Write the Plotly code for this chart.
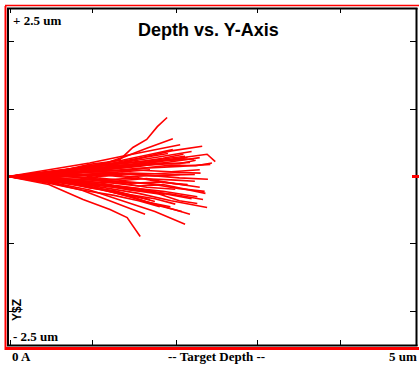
import plotly.graph_objects as go

# Ion trajectories: depth (um) and lateral Y position (um)
ion_depth = [
    [0, 0.5, 0.9, 1.2, 1.37, 1.53, 1.70, 1.83, 1.95],
    [0, 0.5, 1.0, 1.4, 1.7, 2.02],
    [0, 0.6, 1.1, 1.6, 2.0, 2.38],
    [0, 0.5, 1.0, 1.5, 1.9, 2.25, 2.44, 2.54],
    [0, 0.6, 1.2, 1.7, 2.1, 2.45],
    [0, 0.5, 1.0, 1.5, 1.9, 2.35],
    [0, 0.6, 1.1, 1.6, 2.0, 2.44],
    [0, 0.5, 1.0, 1.4, 1.8, 2.17],
    [0, 0.6, 1.1, 1.5, 1.8, 2.13],
    [0, 0.5, 0.9, 1.2, 1.45, 1.68],
    [0, 0.5, 0.92, 1.25, 1.46, 1.53, 1.62],
    [0, 0.6, 1.0, 1.4, 1.75, 2.02],
    [0, 0.5, 1.0, 1.5, 1.9, 2.25],
    [0, 0.6, 1.1, 1.6, 2.0, 2.35],
    [0, 0.5, 1.0, 1.5, 2.0, 2.35],
    [0, 0.5, 1.0, 1.5, 1.9, 2.32],
    [0, 0.6, 1.1, 1.5, 2.0, 2.39],
    [0, 0.5, 1.0, 1.4, 1.7, 1.99],
    [0, 0.5, 0.9, 1.3, 1.6, 1.86],
    [0, 0.6, 1.2, 1.6, 1.9, 2.23],
    [0, 0.5, 1.0, 1.4, 1.8, 2.11],
    [0, 0.6, 1.1, 1.6, 2.0, 2.29],
    [0, 0.5, 1.0, 1.4, 1.7, 2.05],
    [0, 0.6, 1.0, 1.4, 1.86],
    [0, 0.5, 0.9, 1.3, 1.74],
    [0, 0.5, 1.0, 1.5, 1.9, 2.17],
    [0, 0.6, 1.1, 1.6, 2.1, 2.48],
    [0, 0.5, 1.0, 1.4, 1.7, 1.92],
    [0, 0.6, 1.1, 1.5, 1.9, 2.23],
    [0, 0.5, 0.9, 1.3, 1.74],
    [0, 0.5, 1.0, 1.4, 1.8, 2.11],
    [0, 0.6, 1.2, 1.7, 2.1, 2.41],
    [0, 0.5, 1.0, 1.4, 1.8],
    [0, 0.5, 0.9, 1.3, 1.62],
    [0, 0.6, 1.1, 1.5, 1.9, 2.29],
    [0, 0.5, 1.0, 1.6, 2.0, 2.2],
    [0, 0.3, 0.6, 0.9, 1.2, 1.5, 1.8, 2.1, 2.3],
    [0, 0.3, 0.7, 1.0, 1.3, 1.6, 1.9, 2.2, 2.42],
    [0, 0.4, 0.8, 1.1, 1.4, 1.7, 2.0, 2.3, 2.5],
    [0, 0.4, 0.8, 1.2, 1.5, 1.8, 2.05],
    [0, 0.3, 0.7, 1.1, 1.4, 1.7, 1.96],
    [0, 0.4, 0.8, 1.2, 1.6, 1.9, 2.2],
    [0, 0.3, 0.6, 1.0, 1.3, 1.6, 1.9, 2.25],
    [0, 0.4, 0.7, 1.0, 1.3, 1.6, 1.9, 2.15],
    [0, 0.4, 0.8, 1.2, 1.5, 1.8, 2.1, 2.36],
    [0, 0.3, 0.7, 1.0, 1.3, 1.55, 1.8],
    [0, 0.4, 0.8, 1.2, 1.5, 1.85, 2.1, 2.32],
    [0, 0.35, 0.75, 1.1, 1.45, 1.8, 2.1],
    [0, 0.4, 0.8, 1.1, 1.4, 1.7, 2.0, 2.2],
    [0, 0.3, 0.6, 0.95, 1.3, 1.6, 1.9, 2.28],
]
ion_lateral = [
    [0, 0.06, 0.14, 0.20, 0.25, 0.43, 0.55, 0.74, 0.875],
    [0, 0.05, 0.12, 0.28, 0.42, 0.56],
    [0, 0.08, 0.16, 0.27, 0.38, 0.45],
    [0, 0.03, 0.10, 0.16, 0.24, 0.30, 0.33, 0.22],
    [0, 0.01, 0.05, 0.02, -0.02, -0.04],
    [0, -0.03, -0.05, -0.10, -0.08, -0.16],
    [0, -0.05, -0.15, -0.25, -0.36, -0.46],
    [0, -0.08, -0.20, -0.36, -0.52, -0.71],
    [0, -0.07, -0.18, -0.30, -0.42, -0.52],
    [0, -0.09, -0.20, -0.34, -0.46, -0.56],
    [0, -0.12, -0.34, -0.49, -0.61, -0.74, -0.89],
    [0, 0.07, 0.18, 0.24, 0.33, 0.40],
    [0, 0.04, 0.13, 0.22, 0.30, 0.37],
    [0, 0.02, 0.09, 0.15, 0.22, 0.28],
    [0, 0.03, 0.06, 0.10, 0.07, 0.10],
    [0, -0.04, -0.10, -0.17, -0.22, -0.30],
    [0, -0.02, -0.12, -0.20, -0.26, -0.34],
    [0, -0.06, -0.15, -0.25, -0.38, -0.45],
    [0, -0.10, -0.20, -0.28, -0.36, -0.45],
    [0, 0.05, 0.10, 0.16, 0.18, 0.21],
    [0, 0.02, -0.02, 0.05, 0.01, 0.03],
    [0, -0.01, 0.03, -0.03, -0.05, -0.07],
    [0, -0.04, -0.08, -0.10, -0.16, -0.19],
    [0, 0.02, -0.04, -0.08, -0.12],
    [0, 0.04, 0.07, 0.06, 0.10],
    [0, 0.06, 0.14, 0.20, 0.26, 0.30],
    [0, 0.03, 0.07, 0.12, 0.15, 0.18],
    [0, -0.05, -0.12, -0.17, -0.22, -0.27],
    [0, -0.07, -0.17, -0.30, -0.44, -0.56],
    [0, -0.07, -0.14, -0.24, -0.34],
    [0, 0.10, 0.20, 0.30, 0.40, 0.47],
    [0, -0.03, -0.06, -0.10, -0.18, -0.22],
    [0, 0.05, 0.12, 0.17, 0.21],
    [0, -0.03, -0.08, -0.14, -0.19],
    [0, 0.01, 0.04, 0.00, 0.02, 0.03],
    [0, 0.08, 0.15, 0.18, 0.25, 0.28],
    [0, 0.02, 0.07, 0.06, 0.12, 0.15, 0.20, 0.19, 0.24],
    [0, -0.02, -0.06, -0.04, -0.10, -0.14, -0.12, -0.20, -0.25],
    [0, 0.03, 0.05, 0.09, 0.08, 0.13, 0.17, 0.16, 0.20],
    [0, -0.06, -0.10, -0.20, -0.27, -0.33, -0.41],
    [0, 0.04, 0.10, 0.17, 0.21, 0.29, 0.34],
    [0, -0.02, 0.00, -0.05, -0.02, -0.09, -0.12],
    [0, 0.01, -0.03, -0.07, -0.13, -0.18, -0.25, -0.33],
    [0, 0.05, 0.09, 0.13, 0.19, 0.22, 0.27, 0.33],
    [0, 0.00, 0.02, 0.01, 0.05, 0.04, 0.06, 0.05],
    [0, -0.05, -0.09, -0.17, -0.21, -0.29, -0.37],
    [0, -0.04, -0.09, -0.13, -0.20, -0.26, -0.36, -0.40],
    [0, 0.03, 0.04, 0.11, 0.16, 0.23, 0.25],
    [0, 0.01, 0.04, -0.02, -0.06, -0.03, -0.10, -0.13],
    [0, 0.04, 0.08, 0.11, 0.14, 0.20, 0.24, 0.26],
]

x_tick_vals = [0.025, 1.04, 2.06, 3.06, 4.07]
y_tick_vals = [-2, -1, 1, 2]

fig = go.Figure()
for xs, ys in zip(ion_depth, ion_lateral):
    fig.add_trace(go.Scatter(x=xs, y=ys, mode="lines",
                             line=dict(color="#ff0000", width=1.6),
                             hoverinfo="skip", showlegend=False))

W, H = 419, 368
L, R, T, B = 8, 3, 8, 23
pw, ph = W - L - R, H - T - B

def px(x):
    return (x - L) / pw

def py(y):
    return (H - B - y) / ph

def pline(x0, y0, x1, y1, color, width):
    return dict(type="line", xref="paper", yref="paper",
                x0=px(x0), y0=py(y0), x1=px(x1), y1=py(y1),
                line=dict(color=color, width=width), layer="above")

shapes = [
    # red outer lines (drawn first)
    pline(5.5, 6, 5.5, 350, "#ff0000", 2),
    pline(5, 5.5, 419, 5.5, "#ff0000", 1.5),
    pline(5, 348.5, 419, 348.5, "#ff0000", 3),
    # black frame (drawn on top)
    pline(8, 8, 8, 346, "#000000", 2),
    pline(416.5, 8, 416.5, 346, "#000000", 2),
    pline(7, 8.5, 417.5, 8.5, "#000000", 2),
    pline(7, 345.5, 417.5, 345.5, "#000000", 2),
    # red marker on right edge at y=0
    dict(type="line", xref="paper", yref="y", x0=px(412), x1=px(419), y0=0, y1=0,
         line=dict(color="#ff0000", width=3), layer="above"),
]

fig.update_layout(
    width=W, height=H,
    margin=dict(l=L, r=R, t=T, b=B, pad=0),
    paper_bgcolor="white", plot_bgcolor="white",
    xaxis=dict(range=[0, 5], showgrid=False, zeroline=False, showline=False,
               mirror="ticks",
               ticks="inside", ticklen=5, tickwidth=1, tickcolor="black",
               tickvals=x_tick_vals, showticklabels=False, fixedrange=True),
    yaxis=dict(range=[-2.5, 2.5], showgrid=False, zeroline=False, showline=False,
               mirror="ticks",
               ticks="inside", ticklen=6, tickwidth=1, tickcolor="black",
               tickvals=y_tick_vals, showticklabels=False, fixedrange=True),
    shapes=shapes,
    showlegend=False,
)

serif = "Liberation Serif"
ann = [
    dict(text="<b>+ 2.5 um</b>", x=px(11), y=py(20), xanchor="left", yanchor="middle",
         font=dict(family=serif, size=13, color="black")),
    dict(text="<b>- 2.5 um</b>", x=px(11), y=py(336), xanchor="left", yanchor="middle",
         font=dict(family=serif, size=13, color="black")),
    dict(text="<b>0 A</b>", x=px(10), y=py(357), xanchor="left", yanchor="middle",
         font=dict(family=serif, size=13, color="black")),
    dict(text="<b>-- Target Depth --</b>", x=px(216), y=py(357), xanchor="center", yanchor="middle",
         font=dict(family=serif, size=13, color="black")),
    dict(text="<b>5 um</b>", x=px(419), y=py(357), xanchor="right", yanchor="middle",
         font=dict(family=serif, size=13, color="black")),
    dict(text="<b>Depth vs. Y-Axis</b>", x=px(208), y=py(30), xanchor="center", yanchor="middle",
         font=dict(family="Liberation Sans", size=18, color="black")),
    dict(text="<b>Y$Z</b>", x=px(17), y=py(310), xanchor="center", yanchor="middle",
         textangle=-90, font=dict(family="Liberation Sans", size=12, color="black")),
]
for a in ann:
    a.update(xref="paper", yref="paper", showarrow=False)
fig.update_layout(annotations=ann)

fig.write_html("out.html")
